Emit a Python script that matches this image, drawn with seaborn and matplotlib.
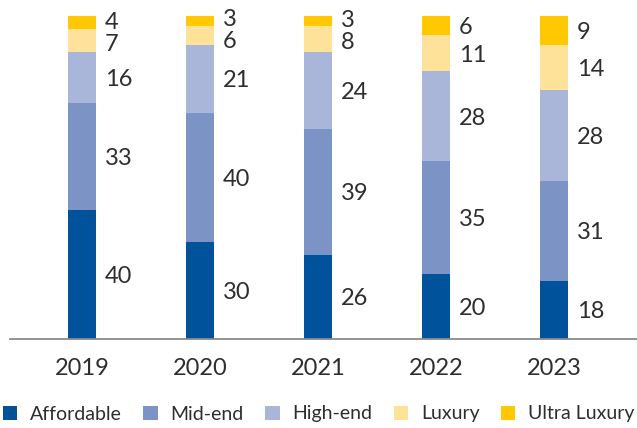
import matplotlib
matplotlib.use("Agg")
import matplotlib.pyplot as plt
import seaborn as sns
import pandas as pd
from matplotlib.patches import Patch

years = ["2019", "2020", "2021", "2022", "2023"]
affordable = [40, 30, 26, 20, 18]
mid_end = [33, 40, 39, 35, 31]
high_end = [16, 21, 24, 28, 28]
luxury = [7, 6, 8, 11, 14]
ultra_luxury = [4, 3, 3, 6, 9]
segments = ["Affordable", "Mid-end", "High-end", "Luxury", "Ultra Luxury"]
colors = ["#00529b", "#7b93c5", "#a9b6d9", "#ffe29a", "#ffc800"]

sns.set_style("white")
plt.rcParams["font.family"] = ["Lato", "DejaVu Sans"]
text_color = "#2e2e2e"

layers = [affordable, mid_end, high_end, luxury, ultra_luxury]
df = pd.DataFrame({"year": years})
cum = [0] * len(years)
for name, vals in zip(segments, layers):
    cum = [c + v for c, v in zip(cum, vals)]
    df[name] = cum

fig = plt.figure(figsize=(6.37, 4.28), dpi=100)
ax = fig.add_axes([10 / 637, 89 / 428, 627 / 637, 323 / 428])

bw = 0.237
# draw cumulative totals from the top layer down so each one covers the next
for name, col in reversed(list(zip(segments, colors))):
    sns.barplot(data=df, x="year", y=name, order=years, color=col,
                width=bw, saturation=1, ax=ax, linewidth=0)

ax.set_xlim(-0.61, 4.70)
ax.set_ylim(0, 100)
ax.set_xlabel("")
ax.set_ylabel("")
ax.set_yticks([])
for s in ["top", "right", "left"]:
    ax.spines[s].set_visible(False)
ax.spines["bottom"].set_color("#8a8a8a")
ax.spines["bottom"].set_linewidth(1.3)
ax.tick_params(axis="x", length=0, pad=14, labelsize=17, labelcolor=text_color)

# value labels, pushed apart where segments are thin
gap = 6.8
for i in range(len(years)):
    vals = [layer[i] for layer in layers]
    mids = []
    base = 0
    for v in vals:
        mids.append(base + v / 2)
        base += v
    for _ in range(5):
        for j in range(len(mids) - 1):
            d = mids[j + 1] - mids[j]
            if d < gap:
                shift = (gap - d) / 2
                mids[j] -= shift
                mids[j + 1] += shift
    for v, y in zip(vals, mids):
        ax.text(i + bw / 2 + 0.075, y - 0.6, str(v), ha="left", va="center",
                fontsize=17, color=text_color)

handles = [Patch(facecolor=c, edgecolor="none") for c in colors]
fig.legend(handles, segments, loc="center", bbox_to_anchor=(0.5, 1 - 414 / 428),
           ncol=5, frameon=False, fontsize=14, handlelength=0.75, handleheight=0.75,
           handletextpad=0.65, columnspacing=1.1, labelcolor=text_color)

fig.savefig("out.png", dpi=100)
